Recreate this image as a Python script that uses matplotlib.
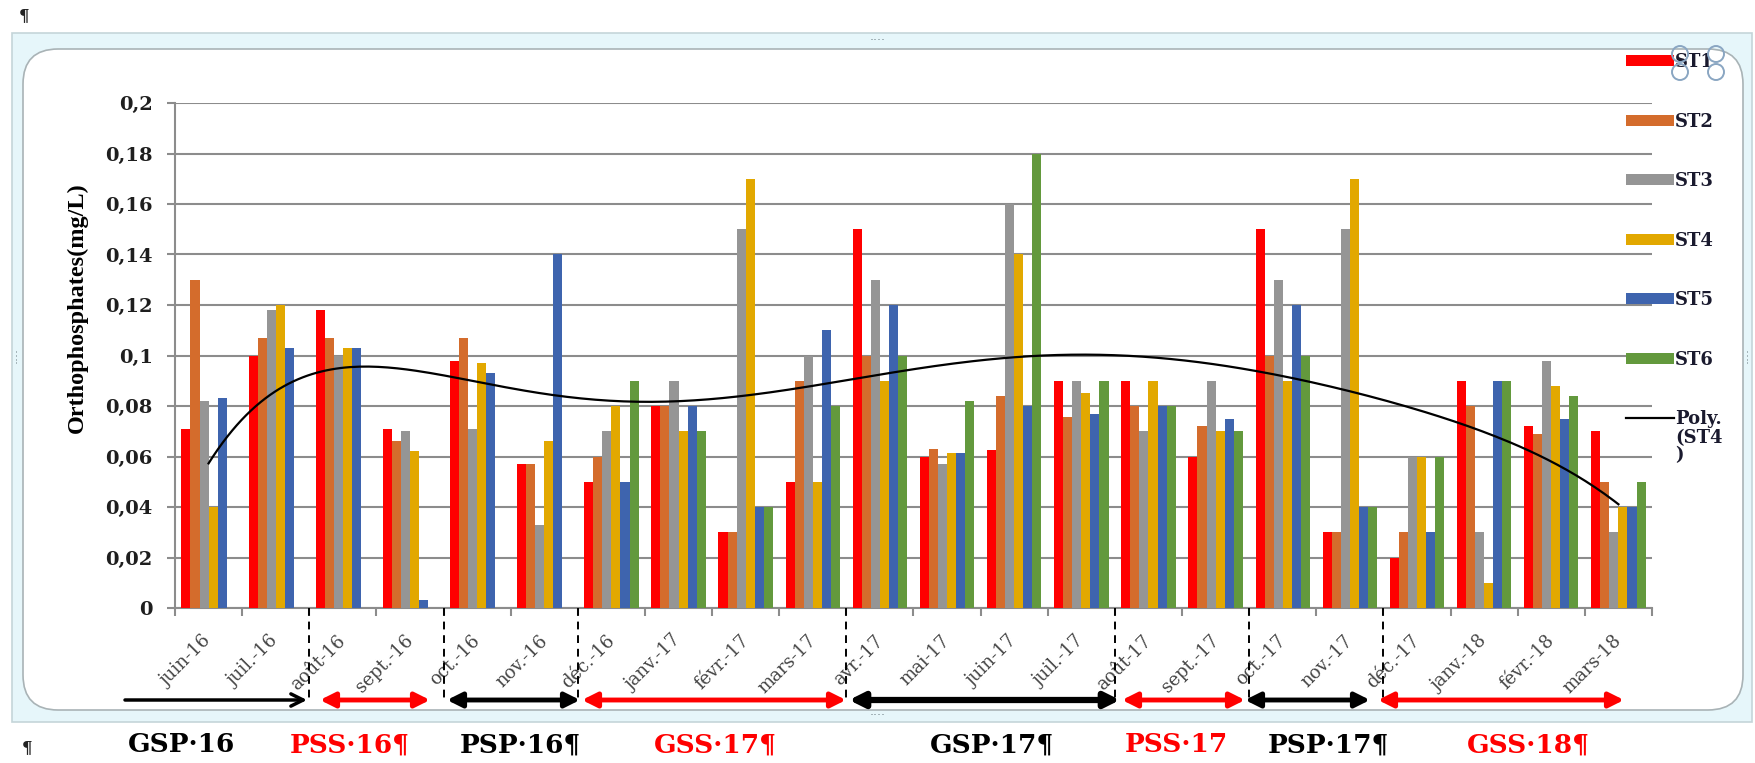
import numpy as np
import matplotlib
matplotlib.use("Agg")
import matplotlib.pyplot as plt
from matplotlib.patches import Rectangle, FancyBboxPatch, Ellipse, FancyArrowPatch
import matplotlib.transforms as mtransforms

# ---------------- data ----------------
months = ["juin-16", "juil.-16", "août-16", "sept.-16", "oct.-16", "nov.-16",
          "déc.-16", "janv.-17", "févr.-17", "mars-17", "avr.-17", "mai-17",
          "juin-17", "juil.-17", "août-17", "sept.-17", "oct.-17", "nov.-17",
          "déc.-17", "janv.-18", "févr.-18", "mars-18"]
st1 = [0.071, 0.100, 0.118, 0.071, 0.098, 0.057, 0.050, 0.080, 0.030, 0.050, 0.150,
       0.060, 0.0625, 0.090, 0.090, 0.060, 0.150, 0.030, 0.020, 0.090, 0.072, 0.070]
st2 = [0.130, 0.107, 0.107, 0.066, 0.107, 0.057, 0.060, 0.080, 0.030, 0.090, 0.100,
       0.063, 0.084, 0.0755, 0.080, 0.072, 0.100, 0.030, 0.030, 0.080, 0.069, 0.050]
st3 = [0.082, 0.118, 0.100, 0.070, 0.071, 0.033, 0.070, 0.090, 0.150, 0.100, 0.130,
       0.057, 0.160, 0.090, 0.070, 0.090, 0.130, 0.150, 0.060, 0.030, 0.098, 0.030]
st4 = [0.040, 0.120, 0.103, 0.062, 0.097, 0.066, 0.080, 0.070, 0.170, 0.050, 0.090,
       0.0615, 0.140, 0.085, 0.090, 0.070, 0.090, 0.170, 0.060, 0.010, 0.088, 0.040]
st5 = [0.083, 0.103, 0.103, 0.003, 0.093, 0.140, 0.050, 0.080, 0.040, 0.110, 0.120,
       0.0615, 0.080, 0.077, 0.080, 0.075, 0.120, 0.040, 0.030, 0.090, 0.075, 0.040]
st6 = [0.0, 0.0, 0.0, 0.0, 0.0, 0.0, 0.090, 0.070, 0.040, 0.080, 0.100,
       0.082, 0.180, 0.090, 0.080, 0.070, 0.100, 0.040, 0.060, 0.090, 0.084, 0.050]
series = [st1, st2, st3, st4, st5, st6]
names = ["ST1", "ST2", "ST3", "ST4", "ST5", "ST6"]
colors = ["#FF0000", "#D46C2C", "#959595", "#E2A800", "#3E64AE", "#63993D"]
yticks = [0, 0.02, 0.04, 0.06, 0.08, 0.1, 0.12, 0.14, 0.16, 0.18, 0.2]
ytick_labels = ["0", "0,02", "0,04", "0,06", "0,08", "0,1", "0,12", "0,14",
                "0,16", "0,18", "0,2"]
seasons = ["GSP·16", "PSS·16¶", "PSP·16¶", "GSS·17¶", "GSP·17¶", "PSS·17",
           "PSP·17¶", "GSS·18¶"]
season_colors = ["black", "red", "black", "red", "black", "red", "black", "red"]
poly_order = 6

# ---------------- figure ----------------
W, H = 1756, 763
fig = plt.figure(figsize=(W / 100, H / 100), dpi=100)
SERIF = ["DejaVu Serif"]
TIMES = ["Liberation Serif", "DejaVu Serif"]


def fx(px):
    return px / W


def fy(py):
    return 1 - py / H


# Word-style chart frame (behind everything)
fig.patches.append(Rectangle((fx(12), fy(722)), fx(1752) - fx(12), fy(33) - fy(722),
                             transform=fig.transFigure, facecolor="#E6F6FA",
                             edgecolor="#C5D5D9", lw=1.2, zorder=-10))
fig.patches.append(FancyBboxPatch((fx(23), fy(710)), fx(1743) - fx(23), fy(49) - fy(710),
                                  boxstyle="round,pad=0,rounding_size=0.02",
                                  transform=fig.transFigure, facecolor="white",
                                  edgecolor="#A9B3B6", lw=1.2, zorder=-9,
                                  mutation_aspect=W / H))

ax_left, ax_right, ax_top, ax_bot = 175, 1652, 103, 608
ax = fig.add_axes([fx(ax_left), fy(ax_bot), fx(ax_right) - fx(ax_left), fy(ax_top) - fy(ax_bot)])
ax.set_facecolor("none")
ax.set_zorder(1)

x = np.arange(len(months))
bw = 0.135
handles = []
for i, (vals, name, c) in enumerate(zip(series, names, colors)):
    b = ax.bar(x + (i - 2.5) * bw, vals, width=bw, color=c, label=name, zorder=3)
    handles.append(b)

# polynomial trendline of ST4 (Excel-style, x = 1..n)
xx = np.arange(1, len(months) + 1)
coef = np.polyfit(xx, st4, poly_order)
xs = np.linspace(1, len(months), 300)
trend, = ax.plot(xs - 1, np.polyval(coef, xs), color="black", lw=1.6, zorder=4,
                 label="Poly.")
handles.append(trend)

ax.set_xlim(-0.5, len(months) - 0.5)
ax.set_ylim(0, 0.2)
ax.set_yticks(yticks)
ax.set_yticklabels(ytick_labels, fontfamily=SERIF, fontweight="bold", fontsize=14,
                   color="#1E1E1E")
ax.yaxis.grid(True, color="#8C8C8C", lw=1.5, zorder=0)
ax.set_axisbelow(True)
for s in ["top", "right"]:
    ax.spines[s].set_visible(False)
for s in ["left", "bottom"]:
    ax.spines[s].set_color("#8C8C8C")
    ax.spines[s].set_linewidth(1.5)
ax.tick_params(axis="y", length=6, width=1.5, color="#8C8C8C", pad=10)

ax.set_xticks(x)
ax.set_xticks(np.arange(-0.5, len(months), 1), minor=True)
ax.tick_params(axis="x", which="minor", length=6, width=1.5, color="#8C8C8C")
ax.tick_params(axis="x", which="major", length=0, pad=17)
ax.set_xticklabels(months, fontfamily=SERIF, fontsize=13, color="#454545")
off = mtransforms.ScaledTranslation(-6 / 100, 0, fig.dpi_scale_trans)
for lab in ax.get_xticklabels():
    lab.set_rotation(45)
    lab.set_ha("right")
    lab.set_va("top")
    lab.set_rotation_mode("anchor")
    lab.set_transform(lab.get_transform() + off)

# y label
fig.text(fx(77), fy(308), "Orthophosphates(mg/L)", rotation=90, ha="center", va="center",
         fontfamily=TIMES, fontweight="bold", fontsize=17.5, color="black")

# legend
fs_leg = 13
fs_px = fs_leg * 100 / 72
leg = ax.legend(handles=handles, loc="upper left",
                bbox_to_anchor=(fx(1626), fy(53)), bbox_transform=fig.transFigure,
                frameon=False, prop={"family": SERIF, "weight": "bold", "size": fs_leg},
                handlelength=48 / fs_px, handleheight=10 / fs_px, handletextpad=0.05,
                labelspacing=2.3, borderpad=0, borderaxespad=0)
for t in leg.get_texts():
    t.set_color("#1A1A2E")
fig.text(fx(1675), fy(429), "(ST4\n)", ha="left", va="top", fontfamily=SERIF,
         fontweight="bold", fontsize=fs_leg, color="#1A1A2E", linespacing=0.95)

# dashed season boundaries
bounds = [1.5, 3.5, 5.5, 9.5, 13.5, 15.5, 17.5]
trans = ax.get_xaxis_transform()
for bx in bounds:
    ax.plot([bx, bx], [0, -(702 - 608) / (ax_bot - ax_top)], transform=trans,
            color="black", lw=1.4, ls=(0, (4, 3)), clip_on=False, zorder=5)

# season arrows (figure pixel positions)
arrow_y = 700
arrows = [(125, 307, "->", "black", 2.5), (320, 430, "<|-|>", "red", 3.5),
          (447, 580, "<|-|>", "black", 3.5), (582, 846, "<|-|>", "red", 3.5),
          (849, 1120, "<|-|>", "black", 4.5), (1122, 1245, "<|-|>", "red", 3.5),
          (1245, 1370, "<|-|>", "black", 3.5), (1378, 1624, "<|-|>", "red", 3.5)]
for x0, x1, st, c, lw in arrows:
    fig.add_artist(FancyArrowPatch(
        (fx(x0), fy(arrow_y)), (fx(x1), fy(arrow_y)), transform=fig.transFigure,
        arrowstyle=st, mutation_scale=22, color=c, lw=lw, shrinkA=0, shrinkB=0,
        zorder=5))

# season labels
label_x = [182, 350, 520, 715, 992, 1176, 1328, 1528]
for lx, txt, c in zip(label_x, seasons, season_colors):
    fig.text(fx(lx), fy(745), txt, ha="center", va="center", fontfamily=SERIF,
             fontweight="bold", fontsize=19, color=c)

# pilcrows
fig.text(fx(24), fy(16), "¶", ha="center", va="center", fontfamily=SERIF,
         fontweight="bold", fontsize=12, color="#222222")
fig.text(fx(27), fy(748), "¶", ha="center", va="center", fontfamily=SERIF,
         fontweight="bold", fontsize=12, color="#222222")

# frame handles and selection circles
for (hx, hy, rot) in [(878, 41, 0), (878, 716, 0), (17, 355, 90), (1748, 355, 90)]:
    fig.text(fx(hx), fy(hy), "····", ha="center", va="center", fontsize=9,
             color="#7A8A90", rotation=rot)
for (cx, cy) in [(1680, 54), (1680, 72), (1716, 54), (1716, 72)]:
    fig.add_artist(Ellipse((fx(cx), fy(cy)), 16 / W, 16 / H, transform=fig.transFigure,
                           fill=False, edgecolor="#8AA6C2", lw=1.4, zorder=10))

fig.savefig("out.png", dpi=100)
